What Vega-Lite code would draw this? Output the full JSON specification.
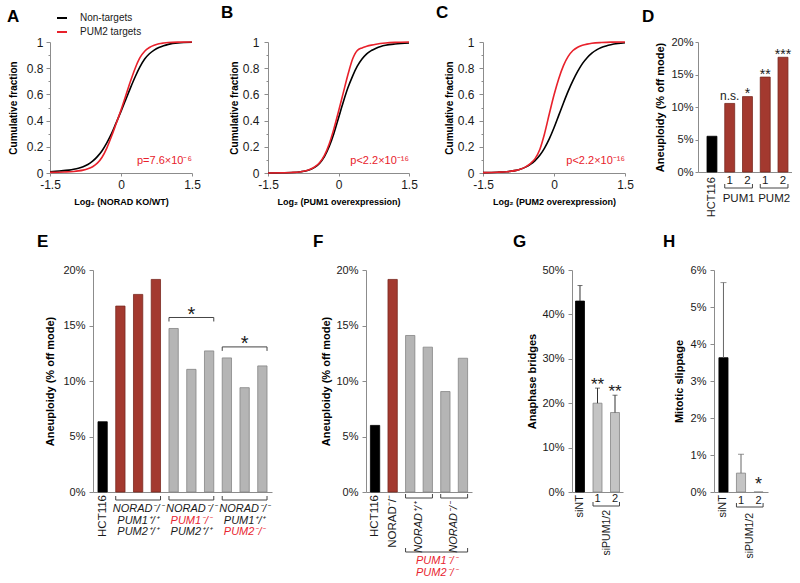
{
"$schema": "https://vega.github.io/schema/vega-lite/v6.json",
"background": "white",
"padding": {"left": 7, "top": 4, "right": 0, "bottom": 0},
"config": {
  "font": "Liberation Sans",
  "view": {"stroke": null},
  "axis": {"domainColor": "#8c8c8c", "tickColor": "#8c8c8c", "labelColor": "#1a1a1a", "titleColor": "#000000", "grid": false, "labelFont": "Liberation Sans", "titleFont": "Liberation Sans", "titleFontWeight": "bold", "tickSize": 4, "labelPadding": 3, "labelOverlap": false, "labelFlush": false},
  "title": {"font": "Liberation Sans", "fontSize": 17, "fontWeight": "bold", "anchor": "start", "frame": "group", "color": "#000000", "offset": 0},
  "text": {"font": "Liberation Sans", "color": "#1a1a1a"},
  "rule": {"color": "#444444", "strokeWidth": 1}
},
"datasets": {
  "cdfA": [
    {"x":-1.5,"f":0.01,"set":"Non-targets"},{"x":-1.3,"f":0.015,"set":"Non-targets"},{"x":-1.1,"f":0.022,"set":"Non-targets"},{"x":-1.0,"f":0.028,"set":"Non-targets"},{"x":-0.9,"f":0.036,"set":"Non-targets"},{"x":-0.8,"f":0.048,"set":"Non-targets"},{"x":-0.7,"f":0.065,"set":"Non-targets"},{"x":-0.6,"f":0.09,"set":"Non-targets"},{"x":-0.5,"f":0.125,"set":"Non-targets"},{"x":-0.4,"f":0.17,"set":"Non-targets"},{"x":-0.3,"f":0.23,"set":"Non-targets"},{"x":-0.2,"f":0.3,"set":"Non-targets"},{"x":-0.1,"f":0.385,"set":"Non-targets"},{"x":0,"f":0.47,"set":"Non-targets"},{"x":0.1,"f":0.56,"set":"Non-targets"},{"x":0.2,"f":0.65,"set":"Non-targets"},{"x":0.3,"f":0.735,"set":"Non-targets"},{"x":0.4,"f":0.81,"set":"Non-targets"},{"x":0.5,"f":0.87,"set":"Non-targets"},{"x":0.6,"f":0.91,"set":"Non-targets"},{"x":0.7,"f":0.938,"set":"Non-targets"},{"x":0.8,"f":0.958,"set":"Non-targets"},{"x":0.9,"f":0.972,"set":"Non-targets"},{"x":1.0,"f":0.982,"set":"Non-targets"},{"x":1.2,"f":0.993,"set":"Non-targets"},{"x":1.5,"f":0.998,"set":"Non-targets"},
    {"x":-1.5,"f":0.005,"set":"PUM2 targets"},{"x":-1.2,"f":0.008,"set":"PUM2 targets"},{"x":-1.0,"f":0.012,"set":"PUM2 targets"},{"x":-0.9,"f":0.016,"set":"PUM2 targets"},{"x":-0.8,"f":0.022,"set":"PUM2 targets"},{"x":-0.7,"f":0.032,"set":"PUM2 targets"},{"x":-0.6,"f":0.048,"set":"PUM2 targets"},{"x":-0.5,"f":0.075,"set":"PUM2 targets"},{"x":-0.4,"f":0.12,"set":"PUM2 targets"},{"x":-0.3,"f":0.19,"set":"PUM2 targets"},{"x":-0.2,"f":0.28,"set":"PUM2 targets"},{"x":-0.1,"f":0.38,"set":"PUM2 targets"},{"x":0,"f":0.48,"set":"PUM2 targets"},{"x":0.1,"f":0.59,"set":"PUM2 targets"},{"x":0.2,"f":0.7,"set":"PUM2 targets"},{"x":0.3,"f":0.8,"set":"PUM2 targets"},{"x":0.4,"f":0.88,"set":"PUM2 targets"},{"x":0.5,"f":0.93,"set":"PUM2 targets"},{"x":0.6,"f":0.958,"set":"PUM2 targets"},{"x":0.7,"f":0.975,"set":"PUM2 targets"},{"x":0.8,"f":0.986,"set":"PUM2 targets"},{"x":0.9,"f":0.992,"set":"PUM2 targets"},{"x":1.0,"f":0.996,"set":"PUM2 targets"},{"x":1.2,"f":0.999,"set":"PUM2 targets"},{"x":1.5,"f":1.0,"set":"PUM2 targets"}
  ],
  "cdfB": [
    {"x":-1.5,"f":0.0,"set":"Non-targets"},{"x":-1.2,"f":0.002,"set":"Non-targets"},{"x":-1.0,"f":0.004,"set":"Non-targets"},{"x":-0.8,"f":0.01,"set":"Non-targets"},{"x":-0.7,"f":0.016,"set":"Non-targets"},{"x":-0.6,"f":0.027,"set":"Non-targets"},{"x":-0.5,"f":0.045,"set":"Non-targets"},{"x":-0.4,"f":0.075,"set":"Non-targets"},{"x":-0.3,"f":0.125,"set":"Non-targets"},{"x":-0.2,"f":0.2,"set":"Non-targets"},{"x":-0.1,"f":0.3,"set":"Non-targets"},{"x":0,"f":0.42,"set":"Non-targets"},{"x":0.1,"f":0.54,"set":"Non-targets"},{"x":0.2,"f":0.65,"set":"Non-targets"},{"x":0.3,"f":0.74,"set":"Non-targets"},{"x":0.4,"f":0.815,"set":"Non-targets"},{"x":0.5,"f":0.87,"set":"Non-targets"},{"x":0.6,"f":0.91,"set":"Non-targets"},{"x":0.7,"f":0.935,"set":"Non-targets"},{"x":0.8,"f":0.953,"set":"Non-targets"},{"x":0.9,"f":0.966,"set":"Non-targets"},{"x":1.0,"f":0.975,"set":"Non-targets"},{"x":1.2,"f":0.985,"set":"Non-targets"},{"x":1.5,"f":0.992,"set":"Non-targets"},
    {"x":-1.5,"f":0.0,"set":"PUM2 targets"},{"x":-1.2,"f":0.002,"set":"PUM2 targets"},{"x":-1.0,"f":0.004,"set":"PUM2 targets"},{"x":-0.8,"f":0.01,"set":"PUM2 targets"},{"x":-0.7,"f":0.017,"set":"PUM2 targets"},{"x":-0.6,"f":0.028,"set":"PUM2 targets"},{"x":-0.5,"f":0.048,"set":"PUM2 targets"},{"x":-0.4,"f":0.08,"set":"PUM2 targets"},{"x":-0.3,"f":0.135,"set":"PUM2 targets"},{"x":-0.2,"f":0.22,"set":"PUM2 targets"},{"x":-0.1,"f":0.335,"set":"PUM2 targets"},{"x":0,"f":0.47,"set":"PUM2 targets"},{"x":0.1,"f":0.61,"set":"PUM2 targets"},{"x":0.2,"f":0.75,"set":"PUM2 targets"},{"x":0.3,"f":0.87,"set":"PUM2 targets"},{"x":0.35,"f":0.91,"set":"PUM2 targets"},{"x":0.4,"f":0.935,"set":"PUM2 targets"},{"x":0.5,"f":0.955,"set":"PUM2 targets"},{"x":0.6,"f":0.967,"set":"PUM2 targets"},{"x":0.7,"f":0.976,"set":"PUM2 targets"},{"x":0.8,"f":0.983,"set":"PUM2 targets"},{"x":1.0,"f":0.992,"set":"PUM2 targets"},{"x":1.2,"f":0.997,"set":"PUM2 targets"},{"x":1.5,"f":1.0,"set":"PUM2 targets"}
  ],
  "cdfC": [
    {"x":-1.5,"f":0.003,"set":"Non-targets"},{"x":-1.2,"f":0.006,"set":"Non-targets"},{"x":-1.0,"f":0.01,"set":"Non-targets"},{"x":-0.9,"f":0.014,"set":"Non-targets"},{"x":-0.8,"f":0.02,"set":"Non-targets"},{"x":-0.7,"f":0.03,"set":"Non-targets"},{"x":-0.6,"f":0.045,"set":"Non-targets"},{"x":-0.5,"f":0.066,"set":"Non-targets"},{"x":-0.4,"f":0.095,"set":"Non-targets"},{"x":-0.3,"f":0.135,"set":"Non-targets"},{"x":-0.2,"f":0.19,"set":"Non-targets"},{"x":-0.1,"f":0.26,"set":"Non-targets"},{"x":0,"f":0.345,"set":"Non-targets"},{"x":0.1,"f":0.44,"set":"Non-targets"},{"x":0.2,"f":0.535,"set":"Non-targets"},{"x":0.3,"f":0.625,"set":"Non-targets"},{"x":0.4,"f":0.705,"set":"Non-targets"},{"x":0.5,"f":0.775,"set":"Non-targets"},{"x":0.6,"f":0.835,"set":"Non-targets"},{"x":0.7,"f":0.88,"set":"Non-targets"},{"x":0.8,"f":0.915,"set":"Non-targets"},{"x":0.9,"f":0.94,"set":"Non-targets"},{"x":1.0,"f":0.958,"set":"Non-targets"},{"x":1.1,"f":0.97,"set":"Non-targets"},{"x":1.2,"f":0.979,"set":"Non-targets"},{"x":1.35,"f":0.988,"set":"Non-targets"},{"x":1.5,"f":0.994,"set":"Non-targets"},
    {"x":-1.5,"f":0.003,"set":"PUM2 targets"},{"x":-1.2,"f":0.006,"set":"PUM2 targets"},{"x":-1.0,"f":0.01,"set":"PUM2 targets"},{"x":-0.9,"f":0.014,"set":"PUM2 targets"},{"x":-0.8,"f":0.02,"set":"PUM2 targets"},{"x":-0.7,"f":0.03,"set":"PUM2 targets"},{"x":-0.6,"f":0.047,"set":"PUM2 targets"},{"x":-0.5,"f":0.072,"set":"PUM2 targets"},{"x":-0.4,"f":0.11,"set":"PUM2 targets"},{"x":-0.3,"f":0.18,"set":"PUM2 targets"},{"x":-0.2,"f":0.3,"set":"PUM2 targets"},{"x":-0.1,"f":0.45,"set":"PUM2 targets"},{"x":0,"f":0.595,"set":"PUM2 targets"},{"x":0.1,"f":0.72,"set":"PUM2 targets"},{"x":0.2,"f":0.82,"set":"PUM2 targets"},{"x":0.3,"f":0.89,"set":"PUM2 targets"},{"x":0.4,"f":0.935,"set":"PUM2 targets"},{"x":0.5,"f":0.96,"set":"PUM2 targets"},{"x":0.6,"f":0.975,"set":"PUM2 targets"},{"x":0.7,"f":0.984,"set":"PUM2 targets"},{"x":0.8,"f":0.99,"set":"PUM2 targets"},{"x":1.0,"f":0.996,"set":"PUM2 targets"},{"x":1.2,"f":0.999,"set":"PUM2 targets"},{"x":1.5,"f":1.0,"set":"PUM2 targets"}
  ],
  "barsD": [
    {"bar":"D0","val":5.5,"grp":"ctrl","sig":""},
    {"bar":"D1","val":10.55,"grp":"exp","sig":"n.s."},
    {"bar":"D2","val":11.6,"grp":"exp","sig":"*"},
    {"bar":"D3","val":14.6,"grp":"exp","sig":"**"},
    {"bar":"D4","val":17.65,"grp":"exp","sig":"***"}
  ],
  "brD": [
    {"from":"D1","to":"D2","name":"PUM1"},
    {"from":"D3","to":"D4","name":"PUM2"}
  ],
  "barsE": [
    {"bar":"E0","val":6.33,"grp":"ctrl"},
    {"bar":"E1","val":16.75,"grp":"exp"},
    {"bar":"E2","val":17.8,"grp":"exp"},
    {"bar":"E3","val":19.15,"grp":"exp"},
    {"bar":"E4","val":14.73,"grp":"rescue"},
    {"bar":"E5","val":11.05,"grp":"rescue"},
    {"bar":"E6","val":12.71,"grp":"rescue"},
    {"bar":"E7","val":12.08,"grp":"rescue"},
    {"bar":"E8","val":9.4,"grp":"rescue"},
    {"bar":"E9","val":11.36,"grp":"rescue"}
  ],
  "brE": [
    {"from":"E1","to":"E3"},{"from":"E4","to":"E6"},{"from":"E7","to":"E9"}
  ],
  "labE": [
    {"mid":"E2","gene":"NORAD","lab":"NORAD⁻/⁻","hl":"n"},
    {"mid":"E2","gene":"PUM1","lab":"PUM1⁺/⁺","hl":"n"},
    {"mid":"E2","gene":"PUM2","lab":"PUM2⁺/⁺","hl":"n"},
    {"mid":"E5","gene":"NORAD","lab":"NORAD⁻/⁻","hl":"n"},
    {"mid":"E5","gene":"PUM1","lab":"PUM1⁻/⁻","hl":"y"},
    {"mid":"E5","gene":"PUM2","lab":"PUM2⁺/⁺","hl":"n"},
    {"mid":"E8","gene":"NORAD","lab":"NORAD⁻/⁻","hl":"n"},
    {"mid":"E8","gene":"PUM1","lab":"PUM1⁺/⁺","hl":"n"},
    {"mid":"E8","gene":"PUM2","lab":"PUM2⁻/⁻","hl":"y"}
  ],
  "sigE": [
    {"from":"E4","to":"E6","mid":"E5","top":14.73,"sig":"*"},
    {"from":"E7","to":"E9","mid":"E8","top":12.08,"sig":"*"}
  ],
  "barsF": [
    {"bar":"F0","val":6.0,"grp":"ctrl"},
    {"bar":"F1","val":19.15,"grp":"exp"},
    {"bar":"F2","val":14.1,"grp":"rescue"},
    {"bar":"F3","val":13.05,"grp":"rescue"},
    {"bar":"F4","val":9.05,"grp":"rescue"},
    {"bar":"F5","val":12.05,"grp":"rescue"}
  ],
  "vlabF": [
    {"bar":"F0","lab":"HCT116","it":"n"},
    {"bar":"F1","lab":"NORAD⁻/⁻","it":"y"}
  ],
  "brF": [
    {"from":"F2","to":"F3","lab":"NORAD⁺/⁺"},
    {"from":"F4","to":"F5","lab":"NORAD⁻/⁻"}
  ],
  "barsG": [
    {"bar":"G0","val":43.0,"err":46.5,"grp":"ctrl","sig":""},
    {"bar":"G1","val":20.0,"err":23.4,"grp":"rescue","sig":"**"},
    {"bar":"G2","val":17.9,"err":21.8,"grp":"rescue","sig":"**"}
  ],
  "barsH": [
    {"bar":"H0","val":3.63,"err":5.66,"grp":"ctrl","sig":""},
    {"bar":"H1","val":0.51,"err":1.02,"grp":"rescue","sig":""},
    {"bar":"H2","val":0.0,"err":0.0,"grp":"rescue","sig":"*"}
  ]
},
"bounds": "flush",
"spacing": 228,
"resolve": {"scale": {"color": "independent", "stroke": "independent"}, "legend": {"color": "independent", "stroke": "independent"}},
"vconcat": [
{
"bounds": "flush",
"spacing": 0,
"resolve": {"scale": {"color": "independent", "stroke": "independent"}, "legend": {"color": "independent", "stroke": "independent"}},
"hconcat": [
{
  "width": 142, "height": 131,
  "title": {"text": "A", "dx": -43, "dy": 18},
  "layer": [
    {"data": {"name": "cdfA"},
     "mark": {"type": "line", "strokeWidth": 1.6, "interpolate": "monotone"},
     "encoding": {
       "x": {"field": "x", "type": "quantitative", "scale": {"domain": [-1.5, 1.5]}, "axis": {"values": [-1.5, 0, 1.5], "tickCount": 10, "labelExpr": "datum.value == 0 ? '0' : (datum.value < 0 ? '-1.5' : '1.5')", "labelFontSize": 12, "title": "Log₂ (NORAD KO/WT)", "titleFontSize": 9, "titlePadding": 7, "tickSize": 3}},
       "y": {"field": "f", "type": "quantitative", "scale": {"domain": [0, 1]}, "axis": {"values": [0,0.1,0.2,0.3,0.4,0.5,0.6,0.7,0.8,0.9,1], "tickCount": 20, "labelExpr": "(round(datum.value*10) % 2 == 0) ? format(datum.value, '~g') : ''", "tickSize": {"condition": {"test": "round(datum.value*10) % 2 == 0", "value": 4}, "value": 2}, "labelFontSize": 12, "title": "Cumulative fraction", "titleFontSize": 10, "titlePadding": 8}},
       "color": {"field": "set", "type": "nominal", "scale": {"domain": ["Non-targets", "PUM2 targets"], "range": ["#000000", "#E8212B"]}, "legend": {"orient": "none", "legendX": 6, "legendY": -30, "title": null, "symbolType": "stroke", "symbolSize": 100, "symbolStrokeWidth": 2, "labelFontSize": 10, "labelOffset": 12, "rowPadding": 3, "labelColor": "#1a1a1a", "labelFont": "Liberation Sans"}}
     }},
    {"data": {"values": [{"p": "p=7.6×10⁻⁶"}]},
     "mark": {"type": "text", "align": "right", "baseline": "middle", "fontSize": 11, "color": "#E8212B"},
     "encoding": {"x": {"datum": 1.5, "type": "quantitative", "scale": {"domain": [-1.5, 1.5]}}, "y": {"datum": 0.09, "type": "quantitative", "scale": {"domain": [0, 1]}}, "text": {"field": "p"}}}
  ]
},
{"width": 76, "height": 131, "data": {"values": [{"a": 1}]}, "mark": {"type": "text", "text": ""}, "encoding": {}},
{
  "width": 141, "height": 131,
  "title": {"text": "B", "dx": -47, "dy": -10},
  "layer": [
    {"data": {"name": "cdfB"},
     "mark": {"type": "line", "strokeWidth": 1.6, "interpolate": "monotone"},
     "encoding": {
       "x": {"field": "x", "type": "quantitative", "scale": {"domain": [-1.5, 1.5]}, "axis": {"values": [-1.5, 0, 1.5], "tickCount": 10, "labelExpr": "datum.value == 0 ? '0' : (datum.value < 0 ? '-1.5' : '1.5')", "labelFontSize": 12, "title": "Log₂ (PUM1 overexpression)", "titleFontSize": 9, "titlePadding": 7, "tickSize": 3}},
       "y": {"field": "f", "type": "quantitative", "scale": {"domain": [0, 1]}, "axis": {"values": [0,0.1,0.2,0.3,0.4,0.5,0.6,0.7,0.8,0.9,1], "tickCount": 20, "labelExpr": "(round(datum.value*10) % 2 == 0) ? format(datum.value, '~g') : ''", "tickSize": {"condition": {"test": "round(datum.value*10) % 2 == 0", "value": 4}, "value": 2}, "labelFontSize": 12, "labelPadding": 5, "title": "Cumulative fraction", "titleFontSize": 10, "titlePadding": 3}},
       "color": {"field": "set", "type": "nominal", "scale": {"domain": ["Non-targets", "PUM2 targets"], "range": ["#000000", "#E8212B"]}, "legend": null}
     }},
    {"data": {"values": [{"p": "p<2.2×10⁻¹⁶"}]},
     "mark": {"type": "text", "align": "right", "baseline": "middle", "fontSize": 11, "color": "#E8212B"},
     "encoding": {"x": {"datum": 1.5, "type": "quantitative", "scale": {"domain": [-1.5, 1.5]}}, "y": {"datum": 0.09, "type": "quantitative", "scale": {"domain": [0, 1]}}, "text": {"field": "p"}}}
  ]
},
{"width": 74, "height": 131, "data": {"values": [{"a": 1}]}, "mark": {"type": "text", "text": ""}, "encoding": {}},
{
  "width": 142, "height": 131,
  "title": {"text": "C", "dx": -47, "dy": -10},
  "layer": [
    {"data": {"name": "cdfC"},
     "mark": {"type": "line", "strokeWidth": 1.6, "interpolate": "monotone"},
     "encoding": {
       "x": {"field": "x", "type": "quantitative", "scale": {"domain": [-1.5, 1.5]}, "axis": {"values": [-1.5, 0, 1.5], "tickCount": 10, "labelExpr": "datum.value == 0 ? '0' : (datum.value < 0 ? '-1.5' : '1.5')", "labelFontSize": 12, "title": "Log₂ (PUM2 overexpression)", "titleFontSize": 9, "titlePadding": 7, "tickSize": 3}},
       "y": {"field": "f", "type": "quantitative", "scale": {"domain": [0, 1]}, "axis": {"values": [0,0.1,0.2,0.3,0.4,0.5,0.6,0.7,0.8,0.9,1], "tickCount": 20, "labelExpr": "(round(datum.value*10) % 2 == 0) ? format(datum.value, '~g') : ''", "tickSize": {"condition": {"test": "round(datum.value*10) % 2 == 0", "value": 4}, "value": 2}, "labelFontSize": 12, "labelPadding": 5, "title": "Cumulative fraction", "titleFontSize": 10, "titlePadding": 3}},
       "color": {"field": "set", "type": "nominal", "scale": {"domain": ["Non-targets", "PUM2 targets"], "range": ["#000000", "#E8212B"]}, "legend": null}
     }},
    {"data": {"values": [{"p": "p<2.2×10⁻¹⁶"}]},
     "mark": {"type": "text", "align": "right", "baseline": "middle", "fontSize": 11, "color": "#E8212B"},
     "encoding": {"x": {"datum": 1.5, "type": "quantitative", "scale": {"domain": [-1.5, 1.5]}}, "y": {"datum": 0.09, "type": "quantitative", "scale": {"domain": [0, 1]}}, "text": {"field": "p"}}}
  ]
},
{"width": 73, "height": 131, "data": {"values": [{"a": 1}]}, "mark": {"type": "text", "text": ""}, "encoding": {}},
{
  "width": 94, "height": 130,
  "title": {"text": "D", "dx": -56, "dy": -6},
  "layer": [
    {"data": {"name": "barsD"},
     "mark": {"type": "bar", "strokeWidth": 0.8},
     "encoding": {
       "x": {"field": "bar", "type": "nominal", "scale": {"domain": ["D0","D1","D2","D3","D4"], "paddingInner": 0.44, "paddingOuter": 0.367, "align": 0.69}, "axis": {"labels": false, "ticks": false, "title": null}},
       "y": {"field": "val", "type": "quantitative", "scale": {"domain": [0, 20]}, "axis": {"values": [0,5,10,15,20], "tickCount": 20, "labelExpr": "datum.value + '%'", "labelFontSize": 11, "tickSize": 3, "labelPadding": 2, "title": "Aneuploidy (% off mode)", "titleFontSize": 11, "titlePadding": 5}},
       "color": {"field": "grp", "type": "nominal", "scale": {"domain": ["ctrl","exp","rescue"], "range": ["#000000","#A3392F","#B5B5B5"]}, "legend": null},
       "stroke": {"field": "grp", "type": "nominal", "scale": {"domain": ["ctrl","exp","rescue"], "range": ["#000000","#7A2820","#858585"]}, "legend": null}
     }},
    {"data": {"name": "barsD"},
     "transform": [{"filter": "datum.sig != '' && datum.sig != 'n.s.'"}],
     "mark": {"type": "text", "fontSize": 14, "baseline": "alphabetic", "yOffset": 1.5},
     "encoding": {"x": {"field": "bar", "type": "nominal", "scale": {"domain": ["D0","D1","D2","D3","D4"], "paddingInner": 0.44, "paddingOuter": 0.367, "align": 0.69}}, "y": {"field": "val", "type": "quantitative", "scale": {"domain": [0, 20]}}, "text": {"field": "sig"}}},
    {"data": {"name": "barsD"},
     "transform": [{"filter": "datum.sig == 'n.s.'"}],
     "mark": {"type": "text", "fontSize": 12, "baseline": "alphabetic", "yOffset": -3.5},
     "encoding": {"x": {"field": "bar", "type": "nominal", "scale": {"domain": ["D0","D1","D2","D3","D4"], "paddingInner": 0.44, "paddingOuter": 0.367, "align": 0.69}}, "y": {"field": "val", "type": "quantitative", "scale": {"domain": [0, 20]}}, "text": {"field": "sig"}}},
    {"data": {"values": [{"bar": "D0", "lab": "HCT116"}]},
     "mark": {"type": "text", "angle": 270, "align": "right", "baseline": "middle", "fontSize": 11, "yOffset": 5},
     "encoding": {"x": {"field": "bar", "type": "nominal", "scale": {"domain": ["D0","D1","D2","D3","D4"], "paddingInner": 0.44, "paddingOuter": 0.367, "align": 0.69}}, "y": {"datum": 0, "type": "quantitative", "scale": {"domain": [0, 20]}}, "text": {"field": "lab"}}},
    {"data": {"values": [{"bar": "D1", "lab": "1"}, {"bar": "D2", "lab": "2"}, {"bar": "D3", "lab": "1"}, {"bar": "D4", "lab": "2"}]},
     "mark": {"type": "text", "baseline": "middle", "fontSize": 11.5, "yOffset": 9},
     "encoding": {"x": {"field": "bar", "type": "nominal", "scale": {"domain": ["D0","D1","D2","D3","D4"], "paddingInner": 0.44, "paddingOuter": 0.367, "align": 0.69}}, "y": {"datum": 0, "type": "quantitative", "scale": {"domain": [0, 20]}}, "text": {"field": "lab"}}},
    {"data": {"name": "brD"},
     "mark": {"type": "rule", "yOffset": 16},
     "encoding": {"x": {"field": "from", "type": "nominal", "bandPosition": 0, "scale": {"domain": ["D0","D1","D2","D3","D4"], "paddingInner": 0.44, "paddingOuter": 0.367, "align": 0.69}}, "x2": {"field": "to", "bandPosition": 1}, "y": {"datum": 0, "type": "quantitative", "scale": {"domain": [0, 20]}}}},
    {"data": {"name": "brD"},
     "mark": {"type": "rule", "yOffset": 16, "y2Offset": 12},
     "encoding": {"x": {"field": "from", "type": "nominal", "bandPosition": 0, "scale": {"domain": ["D0","D1","D2","D3","D4"], "paddingInner": 0.44, "paddingOuter": 0.367, "align": 0.69}}, "y": {"datum": 0, "type": "quantitative", "scale": {"domain": [0, 20]}}, "y2": {"datum": 0}}},
    {"data": {"name": "brD"},
     "mark": {"type": "rule", "yOffset": 16, "y2Offset": 12},
     "encoding": {"x": {"field": "to", "type": "nominal", "bandPosition": 1, "scale": {"domain": ["D0","D1","D2","D3","D4"], "paddingInner": 0.44, "paddingOuter": 0.367, "align": 0.69}}, "y": {"datum": 0, "type": "quantitative", "scale": {"domain": [0, 20]}}, "y2": {"datum": 0}}},
    {"data": {"name": "brD"},
     "mark": {"type": "text", "baseline": "middle", "fontSize": 11.5, "xOffset": 8.9, "yOffset": 27},
     "encoding": {"x": {"field": "from", "type": "nominal", "scale": {"domain": ["D0","D1","D2","D3","D4"], "paddingInner": 0.44, "paddingOuter": 0.367, "align": 0.69}}, "y": {"datum": 0, "type": "quantitative", "scale": {"domain": [0, 20]}}, "text": {"field": "name"}}}
  ]
}
]
},
{
"bounds": "flush",
"spacing": 0,
"resolve": {"scale": {"color": "independent", "stroke": "independent"}, "legend": {"color": "independent", "stroke": "independent"}},
"hconcat": [
{"width": 43, "height": 222, "data": {"values": [{"a": 1}]}, "mark": {"type": "text", "text": ""}, "encoding": {}},
{
  "width": 179, "height": 222,
  "title": {"text": "E", "dx": -56, "dy": -9},
  "layer": [
    {"data": {"name": "barsE"},
     "mark": {"type": "bar", "strokeWidth": 0.8},
     "encoding": {
       "x": {"field": "bar", "type": "nominal", "scale": {"domain": ["E0","E1","E2","E3","E4","E5","E6","E7","E8","E9"], "paddingInner": 0.476, "paddingOuter": 0.28}, "axis": {"labels": false, "ticks": false, "title": null}},
       "y": {"field": "val", "type": "quantitative", "scale": {"domain": [0, 20]}, "axis": {"values": [0,5,10,15,20], "tickCount": 20, "labelExpr": "datum.value + '%'", "labelFontSize": 11, "labelPadding": 4, "title": "Aneuploidy (% off mode)", "titleFontSize": 11, "titlePadding": 7}},
       "color": {"field": "grp", "type": "nominal", "scale": {"domain": ["ctrl","exp","rescue"], "range": ["#000000","#A3392F","#B5B5B5"]}, "legend": null},
       "stroke": {"field": "grp", "type": "nominal", "scale": {"domain": ["ctrl","exp","rescue"], "range": ["#000000","#7A2820","#858585"]}, "legend": null}
     }},
    {"data": {"values": [{"bar": "E0", "lab": "HCT116"}]},
     "mark": {"type": "text", "angle": 270, "align": "right", "baseline": "middle", "fontSize": 11.5, "yOffset": 3},
     "encoding": {"x": {"field": "bar", "type": "nominal", "scale": {"domain": ["E0","E1","E2","E3","E4","E5","E6","E7","E8","E9"], "paddingInner": 0.476, "paddingOuter": 0.28}}, "y": {"datum": 0, "type": "quantitative", "scale": {"domain": [0, 20]}}, "text": {"field": "lab"}}},
    {"data": {"name": "brE"},
     "mark": {"type": "rule", "yOffset": 8},
     "encoding": {"x": {"field": "from", "type": "nominal", "bandPosition": 0, "scale": {"domain": ["E0","E1","E2","E3","E4","E5","E6","E7","E8","E9"], "paddingInner": 0.476, "paddingOuter": 0.28}}, "x2": {"field": "to", "bandPosition": 1}, "y": {"datum": 0, "type": "quantitative", "scale": {"domain": [0, 20]}}}},
    {"data": {"name": "brE"},
     "mark": {"type": "rule", "yOffset": 8, "y2Offset": 4},
     "encoding": {"x": {"field": "from", "type": "nominal", "bandPosition": 0, "scale": {"domain": ["E0","E1","E2","E3","E4","E5","E6","E7","E8","E9"], "paddingInner": 0.476, "paddingOuter": 0.28}}, "y": {"datum": 0, "type": "quantitative", "scale": {"domain": [0, 20]}}, "y2": {"datum": 0}}},
    {"data": {"name": "brE"},
     "mark": {"type": "rule", "yOffset": 8, "y2Offset": 4},
     "encoding": {"x": {"field": "to", "type": "nominal", "bandPosition": 1, "scale": {"domain": ["E0","E1","E2","E3","E4","E5","E6","E7","E8","E9"], "paddingInner": 0.476, "paddingOuter": 0.28}}, "y": {"datum": 0, "type": "quantitative", "scale": {"domain": [0, 20]}}, "y2": {"datum": 0}}},
    {"data": {"name": "labE"},
     "transform": [{"filter": "datum.gene == 'NORAD'"}],
     "mark": {"type": "text", "baseline": "middle", "fontSize": 11, "fontStyle": "italic", "yOffset": 17},
     "encoding": {"x": {"field": "mid", "type": "nominal", "scale": {"domain": ["E0","E1","E2","E3","E4","E5","E6","E7","E8","E9"], "paddingInner": 0.476, "paddingOuter": 0.28}}, "y": {"datum": 0, "type": "quantitative", "scale": {"domain": [0, 20]}}, "text": {"field": "lab"}, "color": {"condition": {"test": "datum.hl == 'y'", "value": "#E82530"}, "value": "#1a1a1a"}}},
    {"data": {"name": "labE"},
     "transform": [{"filter": "datum.gene == 'PUM1'"}],
     "mark": {"type": "text", "baseline": "middle", "fontSize": 11, "fontStyle": "italic", "yOffset": 29},
     "encoding": {"x": {"field": "mid", "type": "nominal", "scale": {"domain": ["E0","E1","E2","E3","E4","E5","E6","E7","E8","E9"], "paddingInner": 0.476, "paddingOuter": 0.28}}, "y": {"datum": 0, "type": "quantitative", "scale": {"domain": [0, 20]}}, "text": {"field": "lab"}, "color": {"condition": {"test": "datum.hl == 'y'", "value": "#E82530"}, "value": "#1a1a1a"}}},
    {"data": {"name": "labE"},
     "transform": [{"filter": "datum.gene == 'PUM2'"}],
     "mark": {"type": "text", "baseline": "middle", "fontSize": 11, "fontStyle": "italic", "yOffset": 40},
     "encoding": {"x": {"field": "mid", "type": "nominal", "scale": {"domain": ["E0","E1","E2","E3","E4","E5","E6","E7","E8","E9"], "paddingInner": 0.476, "paddingOuter": 0.28}}, "y": {"datum": 0, "type": "quantitative", "scale": {"domain": [0, 20]}}, "text": {"field": "lab"}, "color": {"condition": {"test": "datum.hl == 'y'", "value": "#E82530"}, "value": "#1a1a1a"}}},
    {"data": {"name": "sigE"},
     "mark": {"type": "rule", "yOffset": -11},
     "encoding": {"x": {"field": "from", "type": "nominal", "bandPosition": 0, "scale": {"domain": ["E0","E1","E2","E3","E4","E5","E6","E7","E8","E9"], "paddingInner": 0.476, "paddingOuter": 0.28}}, "x2": {"field": "to", "bandPosition": 1}, "y": {"field": "top", "type": "quantitative", "scale": {"domain": [0, 20]}}}},
    {"data": {"name": "sigE"},
     "mark": {"type": "rule", "yOffset": -11, "y2Offset": -7},
     "encoding": {"x": {"field": "from", "type": "nominal", "bandPosition": 0, "scale": {"domain": ["E0","E1","E2","E3","E4","E5","E6","E7","E8","E9"], "paddingInner": 0.476, "paddingOuter": 0.28}}, "y": {"field": "top", "type": "quantitative", "scale": {"domain": [0, 20]}}, "y2": {"field": "top"}}},
    {"data": {"name": "sigE"},
     "mark": {"type": "rule", "yOffset": -11, "y2Offset": -7},
     "encoding": {"x": {"field": "to", "type": "nominal", "bandPosition": 1, "scale": {"domain": ["E0","E1","E2","E3","E4","E5","E6","E7","E8","E9"], "paddingInner": 0.476, "paddingOuter": 0.28}}, "y": {"field": "top", "type": "quantitative", "scale": {"domain": [0, 20]}}, "y2": {"field": "top"}}},
    {"data": {"name": "sigE"},
     "mark": {"type": "text", "baseline": "alphabetic", "fontSize": 20, "yOffset": -7.5},
     "encoding": {"x": {"field": "mid", "type": "nominal", "scale": {"domain": ["E0","E1","E2","E3","E4","E5","E6","E7","E8","E9"], "paddingInner": 0.476, "paddingOuter": 0.28}}, "y": {"field": "top", "type": "quantitative", "scale": {"domain": [0, 20]}}, "text": {"field": "sig"}}}
  ]
},
{"width": 94, "height": 222, "data": {"values": [{"a": 1}]}, "mark": {"type": "text", "text": ""}, "encoding": {}},
{
  "width": 106, "height": 222,
  "title": {"text": "F", "dx": -53, "dy": -9},
  "layer": [
    {"data": {"name": "barsF"},
     "mark": {"type": "bar", "strokeWidth": 0.8},
     "encoding": {
       "x": {"field": "bar", "type": "nominal", "scale": {"domain": ["F0","F1","F2","F3","F4","F5"], "paddingInner": 0.47, "paddingOuter": 0.25}, "axis": {"labels": false, "ticks": false, "title": null}},
       "y": {"field": "val", "type": "quantitative", "scale": {"domain": [0, 20]}, "axis": {"values": [0,5,10,15,20], "tickCount": 20, "labelExpr": "datum.value + '%'", "labelFontSize": 11, "labelPadding": 4, "title": "Aneuploidy (% off mode)", "titleFontSize": 11, "titlePadding": 4}},
       "color": {"field": "grp", "type": "nominal", "scale": {"domain": ["ctrl","exp","rescue"], "range": ["#000000","#A3392F","#B5B5B5"]}, "legend": null},
       "stroke": {"field": "grp", "type": "nominal", "scale": {"domain": ["ctrl","exp","rescue"], "range": ["#000000","#7A2820","#858585"]}, "legend": null}
     }},
    {"data": {"name": "vlabF"},
     "mark": {"type": "text", "angle": 270, "align": "right", "baseline": "middle", "fontSize": 11.5, "yOffset": 3},
     "encoding": {"x": {"field": "bar", "type": "nominal", "scale": {"domain": ["F0","F1","F2","F3","F4","F5"], "paddingInner": 0.47, "paddingOuter": 0.25}}, "y": {"datum": 0, "type": "quantitative", "scale": {"domain": [0, 20]}}, "text": {"field": "lab"}, "fontStyle": {"condition": {"test": "datum.it == 'y'", "value": "italic"}, "value": "normal"}}},
    {"data": {"name": "brF"},
     "mark": {"type": "rule", "yOffset": 6},
     "encoding": {"x": {"field": "from", "type": "nominal", "bandPosition": 0, "scale": {"domain": ["F0","F1","F2","F3","F4","F5"], "paddingInner": 0.47, "paddingOuter": 0.25}}, "x2": {"field": "to", "bandPosition": 1}, "y": {"datum": 0, "type": "quantitative", "scale": {"domain": [0, 20]}}}},
    {"data": {"name": "brF"},
     "mark": {"type": "rule", "yOffset": 6, "y2Offset": 2},
     "encoding": {"x": {"field": "from", "type": "nominal", "bandPosition": 0, "scale": {"domain": ["F0","F1","F2","F3","F4","F5"], "paddingInner": 0.47, "paddingOuter": 0.25}}, "y": {"datum": 0, "type": "quantitative", "scale": {"domain": [0, 20]}}, "y2": {"datum": 0}}},
    {"data": {"name": "brF"},
     "mark": {"type": "rule", "yOffset": 6, "y2Offset": 2},
     "encoding": {"x": {"field": "to", "type": "nominal", "bandPosition": 1, "scale": {"domain": ["F0","F1","F2","F3","F4","F5"], "paddingInner": 0.47, "paddingOuter": 0.25}}, "y": {"datum": 0, "type": "quantitative", "scale": {"domain": [0, 20]}}, "y2": {"datum": 0}}},
    {"data": {"name": "brF"},
     "mark": {"type": "text", "angle": 270, "align": "right", "baseline": "middle", "fontSize": 11, "fontStyle": "italic", "xOffset": 8.8, "yOffset": 10},
     "encoding": {"x": {"field": "from", "type": "nominal", "scale": {"domain": ["F0","F1","F2","F3","F4","F5"], "paddingInner": 0.47, "paddingOuter": 0.25}}, "y": {"datum": 0, "type": "quantitative", "scale": {"domain": [0, 20]}}, "text": {"field": "lab"}}},
    {"data": {"values": [{"from": "F2", "to": "F5"}]},
     "mark": {"type": "rule", "yOffset": 60},
     "encoding": {"x": {"field": "from", "type": "nominal", "bandPosition": 0, "scale": {"domain": ["F0","F1","F2","F3","F4","F5"], "paddingInner": 0.47, "paddingOuter": 0.25}}, "x2": {"field": "to", "bandPosition": 1}, "y": {"datum": 0, "type": "quantitative", "scale": {"domain": [0, 20]}}}},
    {"data": {"values": [{"end": "F2"}]},
     "mark": {"type": "rule", "yOffset": 60, "y2Offset": 56},
     "encoding": {"x": {"field": "end", "type": "nominal", "bandPosition": 0, "scale": {"domain": ["F0","F1","F2","F3","F4","F5"], "paddingInner": 0.47, "paddingOuter": 0.25}}, "y": {"datum": 0, "type": "quantitative", "scale": {"domain": [0, 20]}}, "y2": {"datum": 0}}},
    {"data": {"values": [{"end": "F5"}]},
     "mark": {"type": "rule", "yOffset": 60, "y2Offset": 56},
     "encoding": {"x": {"field": "end", "type": "nominal", "bandPosition": 1, "scale": {"domain": ["F0","F1","F2","F3","F4","F5"], "paddingInner": 0.47, "paddingOuter": 0.25}}, "y": {"datum": 0, "type": "quantitative", "scale": {"domain": [0, 20]}}, "y2": {"datum": 0}}},
    {"data": {"values": [{"mid": "F3", "lab": ["PUM1⁻/⁻", "PUM2⁻/⁻"]}]},
     "mark": {"type": "text", "baseline": "top", "fontSize": 11, "fontStyle": "italic", "lineHeight": 11.5, "color": "#E82530", "xOffset": 9, "yOffset": 63},
     "encoding": {"x": {"field": "mid", "type": "nominal", "scale": {"domain": ["F0","F1","F2","F3","F4","F5"], "paddingInner": 0.47, "paddingOuter": 0.25}}, "y": {"datum": 0, "type": "quantitative", "scale": {"domain": [0, 20]}}, "text": {"field": "lab"}}}
  ]
},
{"width": 100, "height": 222, "data": {"values": [{"a": 1}]}, "mark": {"type": "text", "text": ""}, "encoding": {}},
{
  "width": 51, "height": 222,
  "title": {"text": "G", "dx": -59, "dy": -9},
  "layer": [
    {"data": {"name": "barsG"},
     "mark": {"type": "bar", "strokeWidth": 0.8},
     "encoding": {
       "x": {"field": "bar", "type": "nominal", "scale": {"domain": ["G0","G1","G2"], "paddingInner": 0.486, "paddingOuter": 0.2}, "axis": {"labels": false, "ticks": false, "title": null}},
       "y": {"field": "val", "type": "quantitative", "scale": {"domain": [0, 50]}, "axis": {"values": [0,10,20,30,40,50], "tickCount": 20, "labelExpr": "datum.value + '%'", "labelFontSize": 11, "labelPadding": 4, "title": "Anaphase bridges", "titleFontSize": 11, "titlePadding": 4}},
       "color": {"field": "grp", "type": "nominal", "scale": {"domain": ["ctrl","exp","rescue"], "range": ["#000000","#A3392F","#C4C4C4"]}, "legend": null},
       "stroke": {"field": "grp", "type": "nominal", "scale": {"domain": ["ctrl","exp","rescue"], "range": ["#000000","#7A2820","#858585"]}, "legend": null}
     }},
    {"data": {"name": "barsG"},
     "transform": [{"filter": "datum.err > datum.val"}],
     "mark": {"type": "rule", "color": "#333333"},
     "encoding": {"x": {"field": "bar", "type": "nominal", "scale": {"domain": ["G0","G1","G2"], "paddingInner": 0.486, "paddingOuter": 0.2}}, "y": {"field": "val", "type": "quantitative", "scale": {"domain": [0, 50]}}, "y2": {"field": "err"}}},
    {"data": {"name": "barsG"},
     "transform": [{"filter": "datum.err > datum.val"}],
     "mark": {"type": "tick", "orient": "horizontal", "size": 5, "thickness": 1, "color": "#333333"},
     "encoding": {"x": {"field": "bar", "type": "nominal", "scale": {"domain": ["G0","G1","G2"], "paddingInner": 0.486, "paddingOuter": 0.2}}, "y": {"field": "err", "type": "quantitative", "scale": {"domain": [0, 50]}}}},
    {"data": {"name": "barsG"},
     "transform": [{"filter": "datum.sig != ''"}],
     "mark": {"type": "text", "baseline": "alphabetic", "fontSize": 17, "yOffset": 2},
     "encoding": {"x": {"field": "bar", "type": "nominal", "scale": {"domain": ["G0","G1","G2"], "paddingInner": 0.486, "paddingOuter": 0.2}}, "y": {"field": "err", "type": "quantitative", "scale": {"domain": [0, 50]}}, "text": {"field": "sig"}}},
    {"data": {"values": [{"bar": "G0", "lab": "siNT"}]},
     "mark": {"type": "text", "angle": 270, "align": "right", "baseline": "middle", "fontSize": 11, "yOffset": 3},
     "encoding": {"x": {"field": "bar", "type": "nominal", "scale": {"domain": ["G0","G1","G2"], "paddingInner": 0.486, "paddingOuter": 0.2}}, "y": {"datum": 0, "type": "quantitative", "scale": {"domain": [0, 50]}}, "text": {"field": "lab"}}},
    {"data": {"values": [{"bar": "G1", "lab": "1"}, {"bar": "G2", "lab": "2"}]},
     "mark": {"type": "text", "baseline": "middle", "fontSize": 11, "yOffset": 7},
     "encoding": {"x": {"field": "bar", "type": "nominal", "scale": {"domain": ["G0","G1","G2"], "paddingInner": 0.486, "paddingOuter": 0.2}}, "y": {"datum": 0, "type": "quantitative", "scale": {"domain": [0, 50]}}, "text": {"field": "lab"}}},
    {"data": {"values": [{"from": "G1", "to": "G2"}]},
     "mark": {"type": "rule", "yOffset": 14},
     "encoding": {"x": {"field": "from", "type": "nominal", "bandPosition": 0, "scale": {"domain": ["G0","G1","G2"], "paddingInner": 0.486, "paddingOuter": 0.2}}, "x2": {"field": "to", "bandPosition": 1}, "y": {"datum": 0, "type": "quantitative", "scale": {"domain": [0, 50]}}}},
    {"data": {"values": [{"end": "G1"}]},
     "mark": {"type": "rule", "yOffset": 14, "y2Offset": 10},
     "encoding": {"x": {"field": "end", "type": "nominal", "bandPosition": 0, "scale": {"domain": ["G0","G1","G2"], "paddingInner": 0.486, "paddingOuter": 0.2}}, "y": {"datum": 0, "type": "quantitative", "scale": {"domain": [0, 50]}}, "y2": {"datum": 0}}},
    {"data": {"values": [{"end": "G2"}]},
     "mark": {"type": "rule", "yOffset": 14, "y2Offset": 10},
     "encoding": {"x": {"field": "end", "type": "nominal", "bandPosition": 1, "scale": {"domain": ["G0","G1","G2"], "paddingInner": 0.486, "paddingOuter": 0.2}}, "y": {"datum": 0, "type": "quantitative", "scale": {"domain": [0, 50]}}, "y2": {"datum": 0}}},
    {"data": {"values": [{"bar": "G1", "lab": "siPUM1/2"}]},
     "mark": {"type": "text", "angle": 270, "align": "right", "baseline": "middle", "fontSize": 10.5, "xOffset": 9, "yOffset": 18},
     "encoding": {"x": {"field": "bar", "type": "nominal", "scale": {"domain": ["G0","G1","G2"], "paddingInner": 0.486, "paddingOuter": 0.2}}, "y": {"datum": 0, "type": "quantitative", "scale": {"domain": [0, 50]}}, "text": {"field": "lab"}}}
  ]
},
{"width": 91, "height": 222, "data": {"values": [{"a": 1}]}, "mark": {"type": "text", "text": ""}, "encoding": {}},
{
  "width": 54, "height": 222,
  "title": {"text": "H", "dx": -51, "dy": -9},
  "layer": [
    {"data": {"name": "barsH"},
     "mark": {"type": "bar", "strokeWidth": 0.8},
     "encoding": {
       "x": {"field": "bar", "type": "nominal", "scale": {"domain": ["H0","H1","H2"], "paddingInner": 0.48, "paddingOuter": 0.28}, "axis": {"labels": false, "ticks": false, "title": null}},
       "y": {"field": "val", "type": "quantitative", "scale": {"domain": [0, 6]}, "axis": {"values": [0,1,2,3,4,5,6], "tickCount": 20, "labelExpr": "datum.value + '%'", "labelFontSize": 11, "labelPadding": 4, "title": "Mitotic slippage", "titleFontSize": 11, "titlePadding": 6}},
       "color": {"field": "grp", "type": "nominal", "scale": {"domain": ["ctrl","exp","rescue"], "range": ["#000000","#A3392F","#C4C4C4"]}, "legend": null},
       "stroke": {"field": "grp", "type": "nominal", "scale": {"domain": ["ctrl","exp","rescue"], "range": ["#000000","#7A2820","#858585"]}, "legend": null}
     }},
    {"data": {"name": "barsH"},
     "transform": [{"filter": "datum.err > datum.val"}],
     "mark": {"type": "rule", "color": "#666666"},
     "encoding": {"x": {"field": "bar", "type": "nominal", "scale": {"domain": ["H0","H1","H2"], "paddingInner": 0.48, "paddingOuter": 0.28}}, "y": {"field": "val", "type": "quantitative", "scale": {"domain": [0, 6]}}, "y2": {"field": "err"}}},
    {"data": {"name": "barsH"},
     "transform": [{"filter": "datum.err > datum.val"}],
     "mark": {"type": "tick", "orient": "horizontal", "size": 6, "thickness": 1, "color": "#666666"},
     "encoding": {"x": {"field": "bar", "type": "nominal", "scale": {"domain": ["H0","H1","H2"], "paddingInner": 0.48, "paddingOuter": 0.28}}, "y": {"field": "err", "type": "quantitative", "scale": {"domain": [0, 6]}}}},
    {"data": {"name": "barsH"},
     "transform": [{"filter": "datum.sig != ''"}],
     "mark": {"type": "text", "baseline": "alphabetic", "fontSize": 18, "yOffset": -2.5},
     "encoding": {"x": {"field": "bar", "type": "nominal", "scale": {"domain": ["H0","H1","H2"], "paddingInner": 0.48, "paddingOuter": 0.28}}, "y": {"field": "err", "type": "quantitative", "scale": {"domain": [0, 6]}}, "text": {"field": "sig"}}},
    {"data": {"values": [{"bar": "H0", "lab": "siNT"}]},
     "mark": {"type": "text", "angle": 270, "align": "right", "baseline": "middle", "fontSize": 11, "yOffset": 3},
     "encoding": {"x": {"field": "bar", "type": "nominal", "scale": {"domain": ["H0","H1","H2"], "paddingInner": 0.48, "paddingOuter": 0.28}}, "y": {"datum": 0, "type": "quantitative", "scale": {"domain": [0, 6]}}, "text": {"field": "lab"}}},
    {"data": {"values": [{"bar": "H1", "lab": "1"}, {"bar": "H2", "lab": "2"}]},
     "mark": {"type": "text", "baseline": "middle", "fontSize": 11, "yOffset": 8.5},
     "encoding": {"x": {"field": "bar", "type": "nominal", "scale": {"domain": ["H0","H1","H2"], "paddingInner": 0.48, "paddingOuter": 0.28}}, "y": {"datum": 0, "type": "quantitative", "scale": {"domain": [0, 6]}}, "text": {"field": "lab"}}},
    {"data": {"values": [{"from": "H1", "to": "H2"}]},
     "mark": {"type": "rule", "yOffset": 15},
     "encoding": {"x": {"field": "from", "type": "nominal", "bandPosition": 0, "scale": {"domain": ["H0","H1","H2"], "paddingInner": 0.48, "paddingOuter": 0.28}}, "x2": {"field": "to", "bandPosition": 1}, "y": {"datum": 0, "type": "quantitative", "scale": {"domain": [0, 6]}}}},
    {"data": {"values": [{"end": "H1"}]},
     "mark": {"type": "rule", "yOffset": 15, "y2Offset": 11},
     "encoding": {"x": {"field": "end", "type": "nominal", "bandPosition": 0, "scale": {"domain": ["H0","H1","H2"], "paddingInner": 0.48, "paddingOuter": 0.28}}, "y": {"datum": 0, "type": "quantitative", "scale": {"domain": [0, 6]}}, "y2": {"datum": 0}}},
    {"data": {"values": [{"end": "H2"}]},
     "mark": {"type": "rule", "yOffset": 15, "y2Offset": 11},
     "encoding": {"x": {"field": "end", "type": "nominal", "bandPosition": 1, "scale": {"domain": ["H0","H1","H2"], "paddingInner": 0.48, "paddingOuter": 0.28}}, "y": {"datum": 0, "type": "quantitative", "scale": {"domain": [0, 6]}}, "y2": {"datum": 0}}},
    {"data": {"values": [{"bar": "H1", "lab": "siPUM1/2"}]},
     "mark": {"type": "text", "angle": 270, "align": "right", "baseline": "middle", "fontSize": 10.5, "xOffset": 9, "yOffset": 21},
     "encoding": {"x": {"field": "bar", "type": "nominal", "scale": {"domain": ["H0","H1","H2"], "paddingInner": 0.48, "paddingOuter": 0.28}}, "y": {"datum": 0, "type": "quantitative", "scale": {"domain": [0, 6]}}, "text": {"field": "lab"}}}
  ]
}
]
}
]
}
